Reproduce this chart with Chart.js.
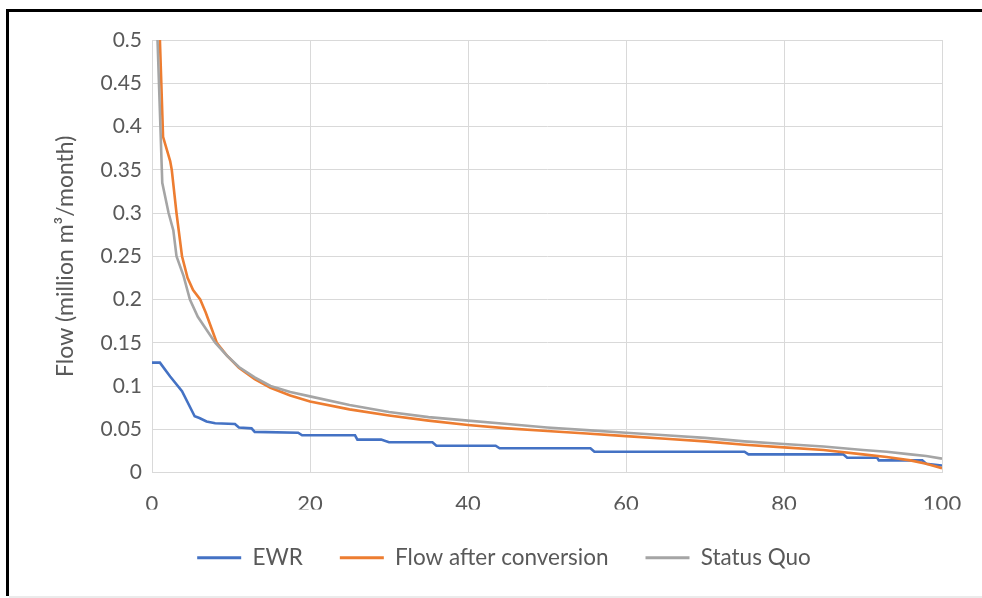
<!DOCTYPE html>
<html>
<head>
<meta charset="utf-8">
<script src="https://cdn.jsdelivr.net/npm/chart.js@4/dist/chart.umd.min.js"></script>
<style>
  html, body { margin: 0; padding: 0; background: #ffffff; }
  #wrap { position: relative; width: 982px; height: 598px; overflow: hidden; }
  #frame { position: absolute; left: 6px; top: 9px; width: 1200px; height: 587px;
           border-top: 3px solid #000; border-left: 3px solid #000; box-sizing: border-box; }
  #bottomline { position: absolute; left: 9px; top: 596px; width: 1000px; height: 2px; background: #ebebeb; }
  canvas { position: absolute; left: 0; top: 0; }
</style>
</head>
<body>
<div id="wrap">
  <div id="frame"></div>
  <div id="bottomline"></div>
  <canvas id="c" width="982" height="598"></canvas>
</div>
<script>
// ---- Data ----
const seriesNames = ['EWR', 'Flow after conversion', 'Status Quo'];

// EWR (stepped)
const ewrX = [0, 1, 2.3, 3.8, 5.4, 6, 6.9, 8, 10.5, 11, 12.6, 13, 18.5, 19, 25.7, 26, 29, 30, 35.5, 36, 43.5, 44, 55.5, 56, 75, 75.5, 87.5, 88, 91.8, 92, 97.5, 98, 100];
const ewrY = [0.127, 0.127, 0.111, 0.094, 0.065, 0.063, 0.059, 0.057, 0.056, 0.052, 0.051, 0.047, 0.046, 0.043, 0.043, 0.038, 0.038, 0.035, 0.035, 0.031, 0.031, 0.028, 0.028, 0.024, 0.024, 0.021, 0.021, 0.017, 0.017, 0.014, 0.014, 0.010, 0.008];

// Flow after conversion
const convX = [0, 1.0, 1.4, 2.3, 2.5, 3.1, 3.8, 4.5, 5.2, 6.1, 6.8, 7.6, 8.2, 9.5, 11, 13, 15, 17.5, 20, 25, 30, 35, 40, 45, 50, 55, 60, 65, 70, 75, 80, 85, 90, 93, 96, 98, 100];
const convY = [1.0, 0.5, 0.388, 0.36, 0.35, 0.3, 0.25, 0.225, 0.211, 0.2, 0.185, 0.165, 0.15, 0.135, 0.121, 0.108, 0.098, 0.089, 0.082, 0.073, 0.066, 0.060, 0.055, 0.051, 0.048, 0.045, 0.042, 0.039, 0.036, 0.032, 0.029, 0.026, 0.021, 0.018, 0.014, 0.010, 0.005];

// Status Quo
const sqX = [0, 0.7, 1.3, 2.1, 2.7, 3.1, 4.0, 4.8, 5.8, 6.9, 8.0, 9.5, 11, 13, 15, 17.5, 20, 25, 30, 35, 40, 45, 50, 55, 60, 65, 70, 75, 80, 85, 90, 93, 96, 98, 100];
const sqY = [1.0, 0.5, 0.335, 0.3, 0.28, 0.25, 0.227, 0.2, 0.18, 0.165, 0.15, 0.135, 0.122, 0.11, 0.1, 0.093, 0.088, 0.078, 0.070, 0.064, 0.060, 0.056, 0.052, 0.049, 0.046, 0.043, 0.040, 0.036, 0.033, 0.030, 0.026, 0.024, 0.021, 0.019, 0.016];

const xTickLabels = ['0', '20', '40', '60', '80', '100'];
const yTickLabels = ['0', '0.05', '0.1', '0.15', '0.2', '0.25', '0.3', '0.35', '0.4', '0.45', '0.5'];
const yTitle = 'Flow (million m\u00B3/month)';

const colors = ['#4472C4', '#ED7D31', '#A5A5A5'];

function pts(xs, ys) { return xs.map((x, i) => ({ x: x, y: ys[i] })); }

const datasets = [
  { label: seriesNames[0], data: pts(ewrX, ewrY) },
  { label: seriesNames[1], data: pts(convX, convY) },
  { label: seriesNames[2], data: pts(sqX, sqY) }
].map((d, i) => Object.assign(d, {
  borderColor: colors[i], backgroundColor: colors[i], borderWidth: 2.6,
  pointRadius: 0, tension: 0, fill: false, order: 3 - i
}));

const txt = '#595959';
const fontFam = 'Lato, "Open Sans", sans-serif';

// shift the legend horizontally to sit where the reference legend sits
const legendShift = {
  id: 'legendShift',
  afterLayout(chart) {
    const lg = chart.legend;
    if (lg) { lg.left += 8; lg.right += 8; }
  }
};

new Chart(document.getElementById('c'), {
  type: 'line',
  data: { datasets: datasets },
  plugins: [legendShift],
  options: {
    responsive: false,
    animation: false,
    devicePixelRatio: 1,
    layout: { padding: { left: 50, right: 40, top: 40, bottom: 19 } },
    plugins: {
      tooltip: { enabled: false },
      legend: {
        position: 'bottom',
        labels: {
          color: txt,
          font: { family: fontFam, size: 22.5 },
          boxWidth: 44, boxHeight: 3, padding: 37,
          generateLabels: (chart) => chart.data.datasets.map((ds, i) => ({
            text: ds.label, fillStyle: ds.borderColor, strokeStyle: ds.borderColor,
            lineWidth: 0, hidden: false, datasetIndex: i, fontColor: txt
          })).sort((a, b) => a.datasetIndex - b.datasetIndex)
        }
      }
    },
    scales: {
      x: {
        type: 'linear', min: 0, max: 100,
        ticks: { stepSize: 20, color: txt, font: { family: fontFam, size: 22 }, padding: 18,
                 maxRotation: 0, callback: (v, i) => xTickLabels[i] },
        grid: { color: '#d9d9d9', lineWidth: 1, drawTicks: false },
        border: { display: true, color: '#d9d9d9' },
        afterFit: (s) => { s.height = 37; }
      },
      y: {
        min: 0, max: 0.5,
        ticks: { stepSize: 0.05, color: txt, font: { family: fontFam, size: 21 }, padding: 10,
                 callback: (v, i) => yTickLabels[i] },
        grid: { color: '#d9d9d9', lineWidth: 1, drawTicks: false },
        border: { display: true, color: '#d9d9d9' },
        title: { display: true, text: yTitle, color: txt, font: { family: fontFam, size: 23 },
                 padding: { top: 2, bottom: 0 } },
        afterFit: (s) => { s.width = 102; }
      }
    }
  }
});
</script>
</body>
</html>
